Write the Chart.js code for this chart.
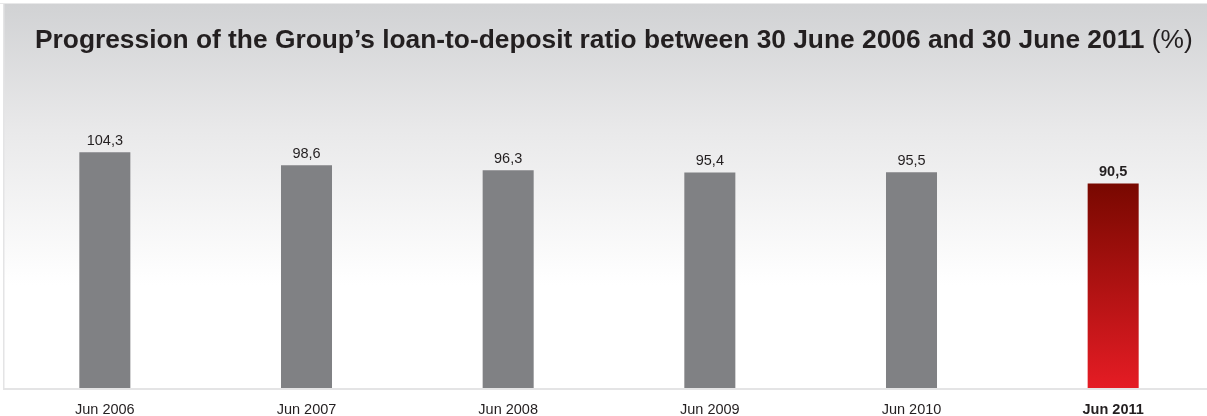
<!DOCTYPE html>
<html>
<head>
<meta charset="utf-8">
<script src="https://cdn.jsdelivr.net/npm/chart.js@4.4.0/dist/chart.umd.min.js"></script>
<style>
html,body{margin:0;padding:0;overflow:hidden;background:#fff;width:1207px;height:416px;}
#wrap{width:1214px;height:416px;}
</style>
</head>
<body>
<div id="wrap"><canvas id="c" width="1214" height="416"></canvas></div>
<script>
const categories = ["Jun 2006","Jun 2007","Jun 2008","Jun 2009","Jun 2010","Jun 2011"];
const values = [104.3, 98.6, 96.3, 95.4, 95.5, 90.5];
const valueLabels = ["104,3","98,6","96,3","95,4","95,5","90,5"];
const titleBold = "Progression of the Group\u2019s loan-to-deposit ratio between 30 June 2006 and 30 June 2011";
const titleUnit = " (%)";

const FONT = "'Liberation Sans', Arial, Helvetica, sans-serif";
const TEXT = "#231f20";
const last = values.length - 1;

const bgPlugin = {
  id: 'bg',
  beforeDraw(chart) {
    const ctx = chart.ctx, W = chart.width, H = chart.height;
    ctx.save();
    ctx.fillStyle = '#ffffff';
    ctx.fillRect(0, 0, W, H);
    const g = ctx.createLinearGradient(0, 4, 0, 285);
    g.addColorStop(0, '#d1d2d4');
    g.addColorStop(0.45, '#e9e9ea');
    g.addColorStop(1, '#ffffff');
    ctx.fillStyle = g;
    ctx.fillRect(4, 4, W - 4, 384);
    ctx.fillStyle = '#e8e8e9';
    ctx.fillRect(0, 3, W, 1);
    ctx.fillStyle = '#e4e4e5';
    ctx.fillRect(3, 4, 1.5, 385);
    ctx.fillStyle = '#e4e4e5';
    ctx.fillRect(3, 388, W, 2);
    // title
    ctx.fillStyle = TEXT;
    ctx.textBaseline = 'alphabetic';
    let size = 25;
    ctx.font = 'bold ' + size + 'px ' + FONT;
    let wb = ctx.measureText(titleBold).width;
    ctx.font = size + 'px ' + FONT;
    let wu = ctx.measureText(titleUnit).width;
    const target = 1193 - 35;
    size = size * target / (wb + wu);
    ctx.font = 'bold ' + size + 'px ' + FONT;
    wb = ctx.measureText(titleBold).width;
    ctx.fillText(titleBold, 35, 48);
    ctx.font = size + 'px ' + FONT;
    ctx.fillText(titleUnit, 35 + wb, 48);
    ctx.restore();
  }
};

const labelPlugin = {
  id: 'vlabels',
  afterDatasetsDraw(chart) {
    const ctx = chart.ctx;
    const meta = chart.getDatasetMeta(0);
    ctx.save();
    ctx.fillStyle = TEXT;
    ctx.textAlign = 'center';
    ctx.textBaseline = 'alphabetic';
    meta.data.forEach((bar, i) => {
      ctx.font = (i === last ? 'bold ' : '') + '14.5px ' + FONT;
      ctx.fillText(valueLabels[i], bar.x, bar.y - 7);
    });
    ctx.restore();
  }
};

new Chart(document.getElementById('c'), {
  type: 'bar',
  data: {
    labels: categories,
    datasets: [{
      data: values,
      borderWidth: 0,
      backgroundColor(context) {
        if (context.dataIndex !== last) return '#808184';
        const chart = context.chart;
        const area = chart.chartArea;
        if (!area) return '#a01010';
        const yScale = chart.scales.y;
        const top = yScale.getPixelForValue(values[last]);
        const g = chart.ctx.createLinearGradient(0, top, 0, area.bottom);
        g.addColorStop(0, '#780800');
        g.addColorStop(1, '#e51c24');
        return g;
      },
      barPercentage: 0.253,
      categoryPercentage: 1.0
    }]
  },
  options: {
    responsive: false,
    animation: false,
    devicePixelRatio: 1,
    layout: { padding: { left: 4, right: 0, top: 49, bottom: 0 } },
    plugins: { legend: { display: false }, tooltip: { enabled: false }, title: { display: false } },
    scales: {
      x: {
        grid: { display: false },
        border: { display: false },
        ticks: {
          color: TEXT,
          padding: 5,
          maxRotation: 0,
          font: (ctx) => ({ family: FONT, size: 14.5, weight: ctx.index === last ? 'bold' : 'normal' })
        },
        afterFit(scale) { scale.height = 28; }
      },
      y: {
        display: false,
        min: 0,
        max: 150
      }
    }
  },
  plugins: [bgPlugin, labelPlugin]
});
</script>
</body>
</html>
